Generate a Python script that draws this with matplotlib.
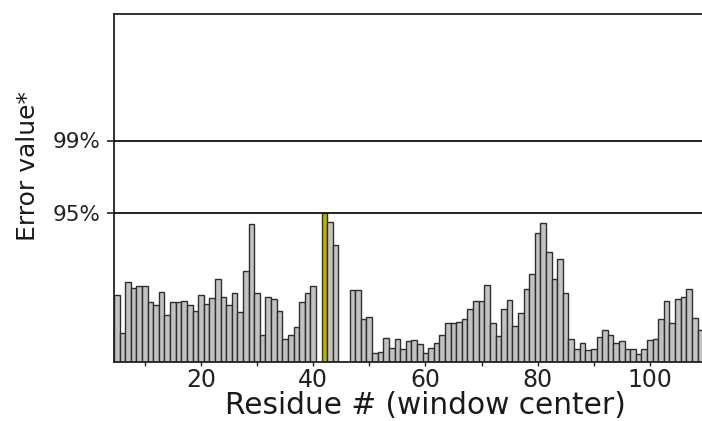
import numpy as np
import matplotlib
matplotlib.use("Agg")
import matplotlib.pyplot as plt

# ---- data ----
residues = list(range(5, 110))
error_values = [
    0.67, 0.29, 0.80, 0.74, 0.76, 0.76, 0.60, 0.57, 0.70, 0.47,   # 5-14
    0.60, 0.60, 0.61, 0.575, 0.51, 0.67, 0.585, 0.64, 0.835, 0.65, # 15-24
    0.57, 0.69, 0.50, 0.915, 1.38, 0.695, 0.27, 0.65, 0.63, 0.515, # 25-34
    0.23, 0.27, 0.35, 0.605, 0.687, 0.76, np.nan, 1.49, 1.405, 1.17, # 35-44
    np.nan, np.nan, 0.72, 0.72, 0.43, 0.455, 0.095, 0.10, 0.245, 0.145, # 45-54
    0.227, 0.135, 0.215, 0.22, 0.18, 0.093, 0.137, 0.193, 0.27, 0.387, # 55-64
    0.393, 0.403, 0.427, 0.527, 0.613, 0.613, 0.77, 0.387, 0.257, 0.527, # 65-74
    0.62, 0.36, 0.487, 0.727, 0.88, 1.287, 1.387, 1.097, 0.83, 1.027, # 75-84
    0.687, 0.227, 0.13, 0.193, 0.12, 0.13, 0.247, 0.32, 0.27, 0.187, # 85-94
    0.21, 0.127, 0.127, 0.08, 0.13, 0.22, 0.227, 0.43, 0.61, 0.387, # 95-104
    0.627, 0.647, 0.727, 0.437, 0.32,                               # 105-109
]
highlight_residue = 42
thresholds = [1.49, 2.215]
threshold_labels = ["95%", "99%"]
x_ticks = [10, 20, 30, 40, 50, 60, 70, 80, 90, 100]
x_tick_labels = ["", "20", "", "40", "", "60", "", "80", "", "100"]

# ---- figure ----
fig = plt.figure(figsize=(7.02, 4.21), dpi=100)
ax = fig.add_axes([114 / 702, 59 / 421, 588 / 702, 348 / 421])

res = np.array(residues)
vals = np.array(error_values, dtype=float)
mask = ~np.isnan(vals)
colors = ["#bab400" if r == highlight_residue else "#c2c2c2" for r in res[mask]]
ax.bar(res[mask], vals[mask], width=1.0, color=colors,
       edgecolor="#2e2e2e", linewidth=1.0, zorder=2)

for t in thresholds:
    ax.axhline(t, color="#111111", linewidth=1.3, zorder=3)

ax.set_xlim(4.5, 109.3)
ax.set_ylim(0, 3.48)

ax.set_xticks(x_ticks)
ax.set_xticklabels(x_tick_labels)
ax.set_yticks(thresholds)
ax.set_yticklabels(threshold_labels)

ax.tick_params(axis="x", direction="out", length=3, width=1.0,
               labelsize=17, pad=1, colors="#222222")
ax.tick_params(axis="y", direction="out", length=5, width=1.2,
               labelsize=15.5, pad=5, colors="#222222")

for s in ["left", "bottom", "top"]:
    ax.spines[s].set_linewidth(1.3)
    ax.spines[s].set_color("#222222")
ax.spines["right"].set_visible(False)

ax.set_xlabel("Residue # (window center)", fontsize=21.3, color="#1a1a1a")
ax.xaxis.label.set_va("center")
ax.xaxis.set_label_coords((425 - 114) / 588, (362 - 406) / 348)

ax.set_ylabel("Error value*", fontsize=18, color="#1a1a1a")
ax.yaxis.label.set_va("center")
ax.yaxis.set_label_coords((28 - 114) / 588, (362 - 166) / 348)

fig.savefig("out.png", dpi=100)
